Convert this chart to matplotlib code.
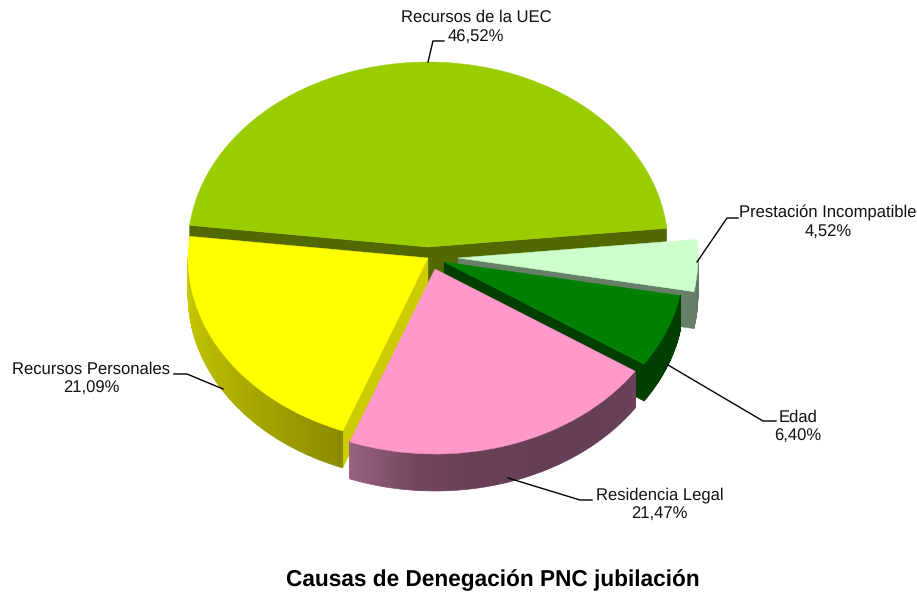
## Exploded "3D" pie: causes for PNC denial. Tops from ax.pie, side walls extruded by hand

import numpy as np
import matplotlib
matplotlib.use('Agg')
import matplotlib.pyplot as plt
from matplotlib.collections import PolyCollection
from matplotlib.colors import LinearSegmentedColormap
from matplotlib.patches import Polygon

plt.rcParams['font.family'] = ['Liberation Sans', 'DejaVu Sans']
plt.rcParams['text.hinting'] = 'no_hinting'

## DATA (counter clockwise from the start angle)
categories = ['Recursos de la UEC', 'Recursos Personales', 'Residencia Legal', 'Edad', 'Prestación Incompatible']
values = [46.52, 21.09, 21.47, 6.40, 4.52]
title = 'Causas de Denegación PNC jubilación'

## Styles
top_colors = ['#9acd00', '#ffff00', '#ff99cc', '#008000', '#ccffcc']
cut_colors = ['#526800', '#cccc00', '#6b4058', '#003f00', '#667f66']
arc_colors = [['#526800', '#526800'],
              ['#cccc00', '#b0b000', '#8c8c00'],
              ['#986282', '#74465f', '#6a3f56', '#663f56', '#663f56', '#6b4058'],
              ['#003f00', '#003f00'],
              ['#667f66', '#5f775f']]
draw_order = [0, 4, 3, 1, 2]

## Layout, all in pixels of the 917x593 picture
W, H = 917, 593
cx, cy = 428, 247
rx, ry = 240, 185
depth = 37
start_angle = 5.8
apex_px = [(428, 247), (428, 258), (435, 269), (444, 262), (458, 258)]
label_px = [(476, 27.5), (91.5, 379), (659.5, 505), (798, 427), (828, 222.5)]
leaders_px = [[(428, 62), (433, 41), (444, 41)],
              [(223, 389), (187, 374), (174, 374)],
              [(508, 478), (580, 500), (592, 500)],
              [(668, 365), (763, 421), (776, 421)],
              [(697, 262), (727, 218), (738, 218)]]


def to_data(px, py):
    return (px - cx) / rx, (cy - py) / ry


fig = plt.figure(figsize=(W / 100, H / 100), dpi=100)
ax = fig.add_axes([0, 0, 1, 1])
wedges, _ = ax.pie(values, startangle=start_angle, radius=1, wedgeprops={'linewidth': 0})

# pie forces a round aspect, squash it back to the ellipse
ax.set_aspect('auto')
ax.set_xlim(to_data(0, 0)[0], to_data(W, 0)[0])
ax.set_ylim(to_data(0, H)[1], to_data(0, 0)[1])
ax.axis('off')

dz = depth / ry
inset = 1.2 / ry
for rank, i in enumerate(draw_order):
    wedge = wedges[i]
    x0, y0 = to_data(*apex_px[i])
    z = 2 + rank * 3
    wedge.set_center((x0, y0))
    wedge.set_facecolor(top_colors[i])
    wedge.set_edgecolor(top_colors[i])
    wedge.set_linewidth(0.3)
    wedge.set_zorder(z + 2)

    # flat faces along the two cuts, only those turned towards the viewer
    for angle, sign in ((wedge.theta1, 1), (wedge.theta2, -1)):
        a = np.radians(angle)
        if sign * np.cos(a) > 0:
            ex, ey = x0 + np.cos(a), y0 + np.sin(a)
            pts = [(x0, y0), (ex, ey), (ex, ey - dz), (x0, y0 - dz)]
            ax.add_patch(Polygon(pts, closed=True, facecolor=cut_colors[i], edgecolor=cut_colors[i],
                                 linewidth=0.3, zorder=z))

    # outer rim, shaded left to right
    lo, hi = max(wedge.theta1, 180), min(wedge.theta2, 360)
    if hi > lo:
        th = np.radians(np.linspace(lo, hi, int(hi - lo) * 2 + 2))
        cmap = LinearSegmentedColormap.from_list('rim', arc_colors[i])
        quads, inner, cols = [], [], []
        for k in range(len(th) - 1):
            xa, ya = x0 + np.cos(th[k]), y0 + np.sin(th[k])
            xb, yb = x0 + np.cos(th[k + 1]), y0 + np.sin(th[k + 1])
            quads.append([(xa, ya), (xb, yb), (xb, yb - dz), (xa, ya - dz)])
            inner.append([(xa, ya), (xb, yb), (xb, yb - dz + inset), (xa, ya - dz + inset)])
            cols.append(cmap(k / max(len(th) - 2, 1)))
        # smooth outline underneath, then hard edged copy on top to hide the seams
        ax.add_collection(PolyCollection(quads, facecolors=cols, edgecolors=cols, linewidths=0.4, zorder=z + 1))
        ax.add_collection(PolyCollection(inner, facecolors=cols, edgecolors='none', antialiaseds=False, zorder=z + 1.5))

# labels and leader lines
for i, name in enumerate(categories):
    lx, ly = to_data(*label_px[i])
    pct = f'{values[i]:.2f}'.replace('.', ',') + '%'
    ax.text(lx, ly, name + '\n' + pct, ha='center', va='center', fontsize=12, color='#111111',
            linespacing=1.3, zorder=40)
    pts = np.array([to_data(*p) for p in leaders_px[i]])
    ax.plot(pts[:, 0], pts[:, 1], color='black', lw=1, zorder=30)

tx, ty = to_data(492.5, 580)
ax.text(tx, ty, title, ha='center', va='center', fontsize=16.3, fontweight='bold', color='black', zorder=40)

fig.savefig('out.png', dpi=100)
